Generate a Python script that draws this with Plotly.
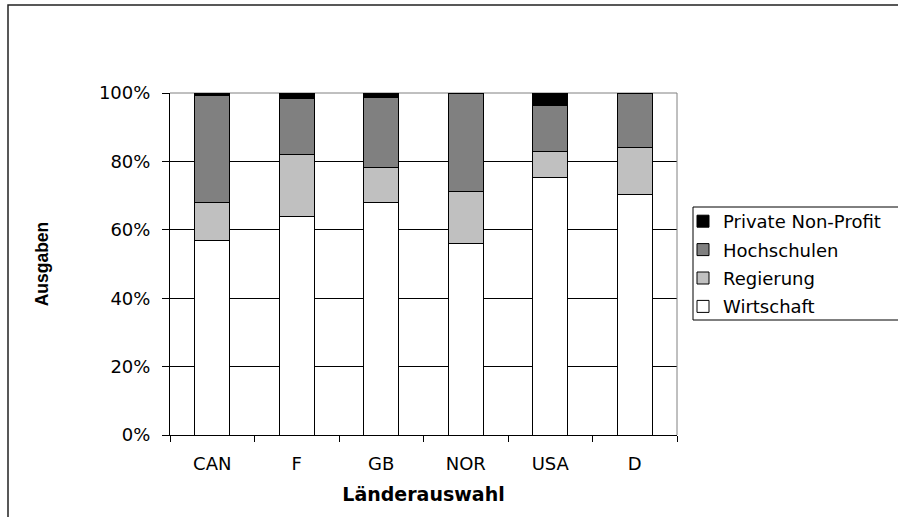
import plotly.graph_objects as go

countries = ["CAN", "F", "GB", "NOR", "USA", "D"]
wirtschaft = [56.8, 64.0, 68.0, 56.0, 75.2, 70.4]
regierung = [11.2, 18.1, 10.3, 15.2, 7.6, 13.7]
hochschulen = [31.2, 16.3, 20.4, 28.8, 13.6, 15.9]
private_np = [0.8, 1.6, 1.3, 0.0, 3.6, 0.0]

series_names = ["Wirtschaft", "Regierung", "Hochschulen", "Private Non-Profit"]
series_values = [wirtschaft, regierung, hochschulen, private_np]
series_colors = ["#FFFFFF", "#C0C0C0", "#808080", "#000000"]
legend_rank = [4, 3, 2, 1]

y_ticks = [0, 20, 40, 60, 80, 100]
y_tick_text = ["0%", "20%", "40%", "60%", "80%", "100%"]

W, H = 898, 517
L, R, T, B = 170, 677, 93, 435

def px_x(p):
    return (p - L) / (R - L)

def px_y(p):
    return (B - p) / (B - T)

fig = go.Figure()
for name, vals, col, rk in zip(series_names, series_values, series_colors, legend_rank):
    fig.add_trace(go.Bar(
        x=countries, y=vals, name=name, legendgroup=name, legendrank=rk,
        marker=dict(color=col, line=dict(color="#000000", width=1)),
    ))

base_font = "Liberation Sans, Arial, sans-serif"
wide_font = "DejaVu Sans, sans-serif"

fig.update_layout(
    width=W, height=H,
    barmode="stack", bargap=0.59,
    plot_bgcolor="white", paper_bgcolor="white",
    margin=dict(l=L, r=W - R, t=T, b=H - B, autoexpand=False),
    font=dict(family=wide_font, size=18, color="#000000"),
    showlegend=True,
    legend=dict(
        x=px_x(683), y=px_y(203), xanchor="left", yanchor="top",
        traceorder="grouped", tracegroupgap=2,
        bgcolor="rgba(0,0,0,0)", borderwidth=0,
        font=dict(family=wide_font, size=18, color="#000000"),
    ),
    xaxis=dict(
        showline=True, linecolor="#000000", linewidth=1,
        ticks="outside", ticklen=6, tickcolor="#000000", tickson="boundaries",
        ticklabelstandoff=12,
        tickfont=dict(family=wide_font, size=18),
        showgrid=False,
        title=dict(text="Länderauswahl", standoff=15,
                   font=dict(family=wide_font, size=19, weight="bold")),
    ),
    yaxis=dict(
        range=[0, 100], tickvals=y_ticks, ticktext=y_tick_text,
        showline=True, linecolor="#000000", linewidth=1,
        ticks="outside", ticklen=7, tickcolor="#000000",
        ticklabelstandoff=8,
        tickfont=dict(family=wide_font, size=18),
        showgrid=True, gridcolor="#000000", gridwidth=1,
        zeroline=False,
        title=dict(text="Ausgaben", standoff=45,
                   font=dict(family=base_font, size=17.5, weight="bold")),
    ),
    shapes=[
        # plot area border (top / right)
        dict(type="line", xref="paper", yref="paper", x0=0, x1=1, y0=1, y1=1,
             line=dict(color="#808080", width=1), layer="below"),
        dict(type="line", xref="paper", yref="paper", x0=1, x1=1, y0=0, y1=1,
             line=dict(color="#808080", width=1), layer="above"),
        # legend box
        dict(type="rect", xref="paper", yref="paper",
             x0=px_x(693), x1=px_x(930), y0=px_y(320), y1=px_y(207),
             line=dict(color="#000000", width=1), fillcolor="white", layer="below"),
        # outer chart border (left / top)
        dict(type="rect", xref="paper", yref="paper",
             x0=px_x(8), x1=px_x(940), y0=px_y(540), y1=px_y(5),
             line=dict(color="#222222", width=1.5), fillcolor="rgba(0,0,0,0)", layer="below"),
    ],
)

fig.write_html("out.html", config={"displayModeBar": False},
               post_script="document.body.style.margin='0';")
